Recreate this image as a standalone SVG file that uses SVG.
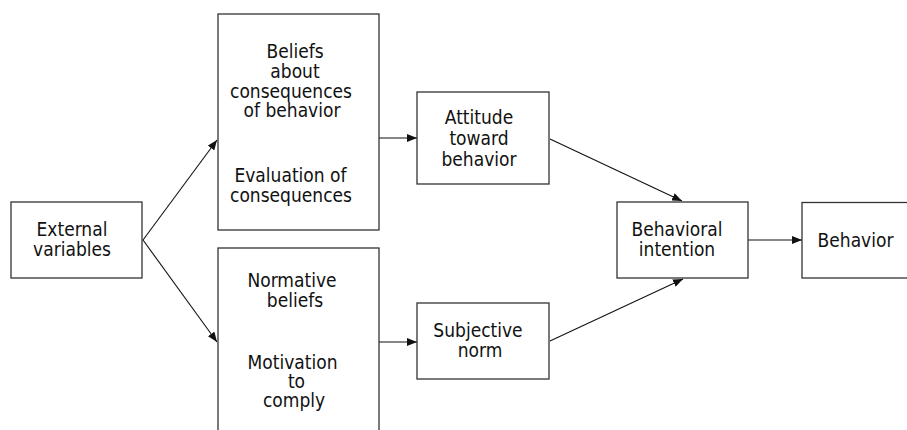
<svg xmlns="http://www.w3.org/2000/svg" width="907" height="430" viewBox="0 0 907 430">
<defs>
<style>
.box{fill:#fff;stroke:#333;stroke-width:1.3}
.t{font-family:"DejaVu Sans Condensed","DejaVu Sans",sans-serif;font-size:19px;fill:#111;text-anchor:middle}
.c{stroke:#111;stroke-width:1.1;fill:none;marker-end:url(#ah)}
</style>
<marker id="ah" viewBox="0 0 10 8" refX="10" refY="4" markerWidth="10" markerHeight="8" markerUnits="userSpaceOnUse" orient="auto">
<path d="M0,0 L10,4 L0,8 z" fill="#111"/>
</marker>
</defs>
<rect width="907" height="430" fill="#fff"/>
<g id="connectors">
<line class="c" x1="143" y1="240" x2="217" y2="140"/>
<line class="c" x1="143" y1="240" x2="217" y2="342"/>
<line class="c" x1="379" y1="138" x2="417" y2="138"/>
<line class="c" x1="379" y1="342" x2="417" y2="342"/>
<line class="c" x1="550" y1="139" x2="682" y2="201"/>
<line class="c" x1="550" y1="341" x2="683" y2="279"/>
<line class="c" x1="748" y1="240" x2="802" y2="240"/>
</g>
<g id="external">
<rect class="box" x="11" y="202" width="131" height="76"/>
<text class="t" x="72" y="236">External</text>
<text class="t" x="72" y="256">variables</text>
</g>
<g id="beliefs">
<rect class="box" x="218" y="14" width="161" height="216"/>
<text class="t" x="295" y="58">Beliefs</text>
<text class="t" x="295" y="78">about</text>
<text class="t" x="291" y="98">consequences</text>
<text class="t" x="292" y="117">of behavior</text>
<text class="t" x="290.5" y="182">Evaluation of</text>
<text class="t" x="291" y="202">consequences</text>
</g>
<g id="normative">
<rect class="box" x="218" y="248" width="161" height="200"/>
<text class="t" x="292" y="287">Normative</text>
<text class="t" x="295" y="307">beliefs</text>
<text class="t" x="292.5" y="369">Motivation</text>
<text class="t" x="296.5" y="388">to</text>
<text class="t" x="294" y="407">comply</text>
</g>
<g id="attitude">
<rect class="box" x="417" y="92" width="132" height="92"/>
<text class="t" x="479" y="124">Attitude</text>
<text class="t" x="479" y="145">toward</text>
<text class="t" x="479" y="166">behavior</text>
</g>
<g id="subjective">
<rect class="box" x="417" y="303" width="132" height="76"/>
<text class="t" x="478" y="337">Subjective</text>
<text class="t" x="480" y="357">norm</text>
</g>
<g id="intention">
<rect class="box" x="617" y="202" width="131" height="76"/>
<text class="t" x="677" y="236">Behavioral</text>
<text class="t" x="677" y="256">intention</text>
</g>
<g id="behavior">
<rect class="box" x="802" y="202.5" width="130" height="75.5"/>
<text class="t" x="855.5" y="247">Behavior</text>
</g>
</svg>
